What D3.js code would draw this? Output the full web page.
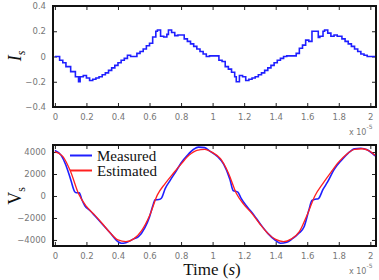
<!DOCTYPE html>
<html>
<head>
<meta charset="utf-8">
<script src="https://cdn.jsdelivr.net/npm/d3@7"></script>
<style>
  body { margin: 0; background: #fff; }
  svg { display: block; }
</style>
</head>
<body>
<div id="chart"></div>
<script>
// I_s step signal (time in units of 1e-5 s)
const isTime = [0, 0.03, 0.05, 0.07, 0.1, 0.13, 0.15, 0.16, 0.18, 0.2, 0.22, 0.24, 0.26, 0.28, 0.3, 0.32, 0.34, 0.36, 0.38, 0.4, 0.42, 0.44, 0.46, 0.48, 0.5, 0.52, 0.54, 0.56, 0.58, 0.6, 0.62, 0.64, 0.65, 0.67, 0.69, 0.71, 0.72, 0.74, 0.76, 0.78, 0.8, 0.82, 0.84, 0.86, 0.88, 0.9, 0.92, 0.94, 0.96, 0.98, 1.0, 1.04, 1.06, 1.08, 1.1, 1.12, 1.14, 1.15, 1.17, 1.19, 1.21, 1.23, 1.25, 1.27, 1.29, 1.31, 1.33, 1.35, 1.37, 1.39, 1.41, 1.43, 1.45, 1.47, 1.53, 1.55, 1.57, 1.59, 1.61, 1.63, 1.65, 1.67, 1.68, 1.7, 1.71, 1.73, 1.75, 1.77, 1.79, 1.82, 1.84, 1.86, 1.88, 1.9, 1.92, 1.94, 1.96, 1.98, 2.0, 2.03];
const isValue = [0, -0.03, -0.05, -0.08, -0.12, -0.16, -0.2, -0.16, -0.15, -0.17, -0.19, -0.18, -0.17, -0.16, -0.145, -0.13, -0.11, -0.09, -0.07, -0.05, -0.03, -0.015, 0.01, 0.0, 0.0, 0.025, 0.04, 0.06, 0.085, 0.105, 0.155, 0.2, 0.21, 0.16, 0.155, 0.175, 0.21, 0.19, 0.165, 0.17, 0.17, 0.14, 0.12, 0.1, 0.08, 0.06, 0.04, 0.02, 0.0, 0.005, 0.005, -0.03, -0.04, -0.08, -0.1, -0.125, -0.16, -0.2, -0.15, -0.16, -0.19, -0.18, -0.17, -0.16, -0.145, -0.13, -0.11, -0.09, -0.07, -0.05, -0.03, -0.015, 0.0, 0.005, 0.025, 0.065, 0.09, 0.13, 0.12, 0.2, 0.2, 0.15, 0.16, 0.2, 0.21, 0.185, 0.16, 0.17, 0.16, 0.14, 0.12, 0.1, 0.08, 0.06, 0.04, 0.02, 0.01, 0.0, 0.0, 0.0];

// V_s measured
const vsMeasTime = [0, 0.04, 0.07, 0.1, 0.125, 0.135, 0.155, 0.17, 0.19, 0.22, 0.25, 0.3, 0.35, 0.4, 0.42, 0.45, 0.5, 0.53, 0.57, 0.6, 0.625, 0.635, 0.66, 0.675, 0.7, 0.73, 0.77, 0.8, 0.84, 0.88, 0.91, 0.95, 0.98, 1.03, 1.07, 1.11, 1.13, 1.16, 1.18, 1.22, 1.26, 1.3, 1.35, 1.4, 1.43, 1.47, 1.5, 1.55, 1.58, 1.61, 1.63, 1.65, 1.67, 1.7, 1.73, 1.77, 1.82, 1.86, 1.9, 1.94, 1.98, 2.01, 2.03];
const vsMeasValue = [4150, 3700, 2800, 1500, 400, 300, 280, -300, -900, -1300, -1750, -2550, -3350, -4150, -4300, -4250, -3900, -3700, -2900, -1900, -700, -350, -320, -200, 700, 1400, 2300, 3000, 3700, 4250, 4450, 4400, 4100, 3600, 2900, 1500, 500, 350, -200, -1000, -1700, -2500, -3400, -4050, -4300, -4200, -3950, -3350, -2800, -1300, -400, -300, -250, 600, 1300, 2400, 3300, 3900, 4300, 4350, 4200, 3900, 3650];

// V_s estimated
const vsEstTime = [0, 0.05, 0.1, 0.15, 0.2, 0.25, 0.3, 0.35, 0.4, 0.45, 0.5, 0.55, 0.6, 0.65, 0.7, 0.75, 0.8, 0.85, 0.9, 0.95, 1.0, 1.05, 1.1, 1.15, 1.2, 1.25, 1.3, 1.35, 1.4, 1.45, 1.5, 1.55, 1.6, 1.65, 1.7, 1.75, 1.8, 1.85, 1.9, 1.95, 2.0, 2.03];
const vsEstValue = [4030, 3600, 2200, 200, -950, -1700, -2500, -3350, -4000, -4150, -3900, -3150, -1800, 100, 1150, 2050, 2900, 3700, 4150, 4250, 3950, 3400, 2100, 250, -800, -1600, -2550, -3400, -3950, -4150, -3900, -3250, -1700, 50, 1150, 2150, 3100, 3800, 4250, 4300, 4050, 3700];

const xTicks = [0, 0.2, 0.4, 0.6, 0.8, 1, 1.2, 1.4, 1.6, 1.8, 2];
const isTicks = [-0.4, -0.2, 0, 0.2, 0.4];
const vsTicks = [-4000, -2000, 0, 2000, 4000];

const width = 379, height = 280;
const left = 53, right = 376;

const svg = d3.select("#chart").append("svg")
  .attr("width", width)
  .attr("height", height);

const x = d3.scaleLinear().domain([-0.012, 2.036]).range([left, right]);

const blue = "#1f1fff", red = "#ff2020";
const tickColor = "#777";

function panel(top, bottom, yDomain, ticks, fmt) {
  const y = d3.scaleLinear().domain(yDomain).range([bottom, top]);
  const g = svg.append("g");

  const bx = g.append("g").attr("transform", `translate(0,${bottom})`)
    .call(d3.axisBottom(x).tickValues(xTicks).tickSizeInner(-4).tickSizeOuter(0).tickPadding(7).tickFormat(d3.format("")));
  const tx = g.append("g").attr("transform", `translate(0,${top})`)
    .call(d3.axisTop(x).tickValues(xTicks).tickSizeInner(-4).tickSizeOuter(0).tickFormat(""));
  const ly = g.append("g").attr("transform", `translate(${left},0)`)
    .call(d3.axisLeft(y).tickValues(ticks).tickSizeInner(-4).tickSizeOuter(0).tickPadding(7).tickFormat(fmt));
  const ry = g.append("g").attr("transform", `translate(${right},0)`)
    .call(d3.axisRight(y).tickValues(ticks).tickSizeInner(-4).tickSizeOuter(0).tickFormat(""));

  [bx, tx, ly, ry].forEach(a => {
    a.select(".domain").remove();
    a.selectAll(".tick line").attr("stroke", "#222").attr("stroke-width", 1);
    a.selectAll(".tick text").attr("fill", tickColor)
      .style("font-family", "DejaVu Sans, sans-serif").style("font-size", "8.5px");
  });

  g.append("rect")
    .attr("x", left).attr("y", top)
    .attr("width", right - left).attr("height", bottom - top)
    .attr("fill", "none").attr("stroke", "#111").attr("stroke-width", 2);

  // x 10^-5 multiplier
  const m = g.append("text")
    .attr("x", 349).attr("y", bottom + 28)
    .attr("fill", tickColor)
    .style("font-family", "DejaVu Sans, sans-serif").style("font-size", "8px");
  m.append("tspan").text("x 10");
  m.append("tspan").attr("dy", -6).style("font-size", "6px").text("-5");

  return { y, g };
}

// top panel: I_s
const p1 = panel(6, 107, [-0.4, 0.4], isTicks, d => d === 0 ? "0" : d3.format(".1f")(d));
const lineIs = d3.line()
  .x(d => x(d[0])).y(d => p1.y(d[1]))
  .curve(d3.curveStepAfter);
p1.g.append("path")
  .datum(isTime.map((t, i) => [t, isValue[i]]))
  .attr("d", lineIs)
  .attr("fill", "none").attr("stroke", blue).attr("stroke-width", 1.6);

// bottom panel: V_s
const p2 = panel(145, 246, [-4550, 4640], vsTicks, d3.format("d"));
const lineVs = d3.line()
  .x(d => x(d[0])).y(d => p2.y(d[1]))
  .curve(d3.curveMonotoneX);
p2.g.append("path")
  .datum(vsMeasTime.map((t, i) => [t, vsMeasValue[i]]))
  .attr("d", lineVs)
  .attr("fill", "none").attr("stroke", blue).attr("stroke-width", 1.6);
p2.g.append("path")
  .datum(vsEstTime.map((t, i) => [t, vsEstValue[i]]))
  .attr("d", lineVs)
  .attr("fill", "none").attr("stroke", red).attr("stroke-width", 1.3);

// legend
const legend = [["Measured", blue], ["Estimated", red]];
legend.forEach((d, i) => {
  const ly = 155.5 + i * 15;
  svg.append("line")
    .attr("x1", 70).attr("x2", 92).attr("y1", ly).attr("y2", ly)
    .attr("stroke", d[1]).attr("stroke-width", 2);
  svg.append("text")
    .attr("x", 97).attr("y", ly + 5)
    .style("font-family", "Liberation Serif, serif").style("font-size", "15px")
    .attr("fill", "#111")
    .text(d[0]);
});

// axis labels
const ylab1 = svg.append("text")
  .attr("transform", "translate(21,56) rotate(-90)")
  .attr("text-anchor", "middle")
  .style("font-family", "Liberation Serif, serif").style("font-size", "18px")
  .style("font-style", "italic").attr("fill", "#111");
ylab1.append("tspan").text("I");
ylab1.append("tspan").attr("dy", 4).style("font-size", "12px").text("s");

const ylab2 = svg.append("text")
  .attr("transform", "translate(21,196) rotate(-90)")
  .attr("text-anchor", "middle")
  .style("font-family", "Liberation Serif, serif").style("font-size", "18px")
  .attr("fill", "#111");
ylab2.append("tspan").text("V");
ylab2.append("tspan").attr("dy", 4).style("font-size", "12px").text("s");

const xlab = svg.append("text")
  .attr("x", 212).attr("y", 275)
  .attr("text-anchor", "middle")
  .style("font-family", "Liberation Serif, serif").style("font-size", "17px")
  .attr("fill", "#111");
xlab.append("tspan").text("Time (");
xlab.append("tspan").style("font-style", "italic").text("s");
xlab.append("tspan").text(")");
</script>
</body>
</html>
